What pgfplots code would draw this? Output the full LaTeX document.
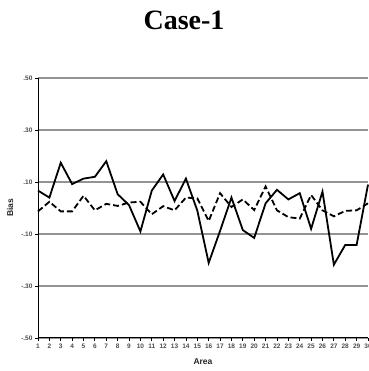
\documentclass[border=0pt]{standalone}
\usepackage{pgfplots}
\pgfplotsset{compat=1.18}
\usepackage{fontspec}
\setmainfont{Liberation Sans}
\newfontfamily\titlefont{Liberation Serif}
\begin{document}
\begin{tikzpicture}
\begin{axis}[
  at={(0pt,0pt)}, anchor=south west,
  scale only axis, width=330pt, height=260pt,
  xmin=1, xmax=30, ymin=-0.5, ymax=0.5,
  axis x line*=bottom, axis y line*=left,
  axis line style={black, line width=1pt},
  xtick={1,...,30},
  ytick={-0.5,-0.3,-0.1,0.1,0.3,0.5},
  yticklabels={-.50,-.30,-.10,.10,.30,.50},
  ymajorgrids,
  grid style={gray!85, line width=1.3pt},
  tick style={black, line width=0.8pt},
  tick align=outside, major tick length=3pt,
  ticklabel style={font=\fontsize{6.5}{7.5}\selectfont\bfseries, text=black!70},
  xticklabel style={yshift=1pt},
  yticklabel style={xshift=1pt},
  /pgf/number format/assume math mode=true,
  clip=false,
]
\addplot[black, line width=1.8pt] coordinates {
(1,0.067)(2,0.040)(3,0.174)(4,0.092)(5,0.113)(6,0.120)(7,0.180)(8,0.053)(9,0.011)(10,-0.090)
(11,0.067)(12,0.129)(13,0.027)(14,0.113)(15,-0.010)(16,-0.211)(17,-0.088)(18,0.040)(19,-0.085)(20,-0.115)
(21,0.018)(22,0.070)(23,0.033)(24,0.057)(25,-0.080)(26,0.063)(27,-0.218)(28,-0.142)(29,-0.142)(30,0.090)};
\addplot[black, line width=1.8pt, dash pattern=on 6pt off 3pt] coordinates {
(1,-0.013)(2,0.024)(3,-0.013)(4,-0.013)(5,0.047)(6,-0.009)(7,0.016)(8,0.008)(9,0.021)(10,0.024)
(11,-0.024)(12,0.007)(13,-0.009)(14,0.040)(15,0.037)(16,-0.050)(17,0.057)(18,0.004)(19,0.033)(20,-0.008)
(21,0.083)(22,-0.009)(23,-0.035)(24,-0.041)(25,0.050)(26,-0.009)(27,-0.032)(28,-0.011)(29,-0.009)(30,0.018)};
\end{axis}
\node[font=\titlefont\bfseries\fontsize{28}{30}\selectfont] at (146pt,318pt) {Case-1};
\node[rotate=90, font=\fontsize{8.5}{9}\selectfont\bfseries, text=black!85] at (-28pt,130pt) {Bias};
\node[font=\fontsize{8.5}{9}\selectfont\bfseries, text=black!85] at (165pt,-24pt) {Area};
\pgfresetboundingbox
\path (-38pt,-33pt) rectangle (330pt,338pt);
\end{tikzpicture}
\end{document}
